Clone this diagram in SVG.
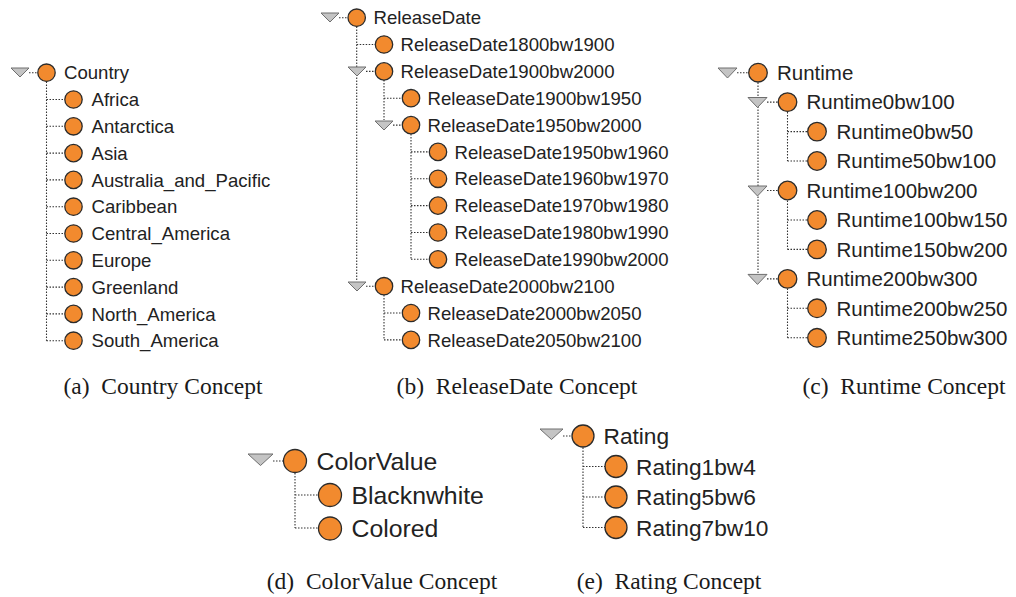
<svg xmlns="http://www.w3.org/2000/svg" width="1016" height="597" viewBox="0 0 1016 597">
  <style>
    .n { fill: #f28a2e; stroke: #2b2b2b; stroke-width: 1.3; }
    .tri { fill: #c4c4c4; stroke: #6e6e6e; stroke-width: 1; stroke-linejoin: round; }
    .dot { fill: none; stroke: #333; stroke-width: 1.1; stroke-dasharray: 1.5 1.5; }
    .t { font-family: "Liberation Sans", Arial, sans-serif; fill: #222; }
    .s18 { font-size: 18.6px; }
    .s20 { font-size: 20.5px; }
    .s22 { font-size: 22.7px; }
    .s24 { font-size: 24.8px; }
    .cap { font-family: "Liberation Serif", "Times New Roman", serif; font-size: 23.5px; fill: #1a1a1a; text-anchor: middle; }
  </style>

  <!-- dotted tree connectors -->
  <g id="connectors">
    <!-- (a) Country -->
    <path class="dot" d="M29,72.7H37 M46.5,81.5V340.7 M46.5,99.5H64 M46.5,126.3H64 M46.5,153.1H64 M46.5,179.9H64 M46.5,206.7H64 M46.5,233.5H64 M46.5,260.3H64 M46.5,287.1H64 M46.5,313.9H64 M46.5,340.7H64"/>
    <!-- (b) ReleaseDate -->
    <path class="dot" d="M339,17.7H347 M356.7,26.5V281 M356.7,44.5H375 M366,71.4H375 M384,80V120 M384,98.2H402 M393,125.1H402 M411,134V259.3 M411,151.9H429 M411,178.8H429 M411,205.6H429 M411,232.5H429 M411,259.3H429 M366,286.2H375 M384,295V339.9 M384,313H402 M384,339.9H402"/>
    <!-- (c) Runtime -->
    <path class="dot" d="M737,72.7H748 M758,82.5V274 M767,102.1H777.5 M787.5,112V161 M787.5,131.6H807 M787.5,161H807 M767,190.5H777.5 M787.5,200.5V249.4 M787.5,220H807 M787.5,249.4H807 M767,278.9H777.5 M787.5,288.5V337.8 M787.5,308.3H807 M787.5,337.8H807"/>
    <!-- (d) ColorValue -->
    <path class="dot" d="M273,461H283 M295,473V528 M295,495H318 M295,528H318"/>
    <!-- (e) Rating -->
    <path class="dot" d="M563,436H572 M583,447.5V527.5 M583,466.5H605 M583,497H605 M583,527.5H605"/>
  </g>

  <!-- (a) Country concept -->
  <g id="country">
    <polygon class="tri" points="11,68 29,68 20,77"/>
    <circle class="n" cx="46.5" cy="72.7" r="8.7"/>
    <text class="t s18" x="64" y="79.3">Country</text>
  </g>
  <g id="country-children" class="t s18">
    <g id="africa"><circle class="n" cx="73.5" cy="99.5" r="8.7"/><text x="91.5" y="106.1">Africa</text></g>
    <g id="antarctica"><circle class="n" cx="73.5" cy="126.3" r="8.7"/><text x="91.5" y="132.9">Antarctica</text></g>
    <g id="asia"><circle class="n" cx="73.5" cy="153.1" r="8.7"/><text x="91.5" y="159.7">Asia</text></g>
    <g id="australia"><circle class="n" cx="73.5" cy="179.9" r="8.7"/><text x="91.5" y="186.5">Australia_and_Pacific</text></g>
    <g id="caribbean"><circle class="n" cx="73.5" cy="206.7" r="8.7"/><text x="91.5" y="213.3">Caribbean</text></g>
    <g id="central-america"><circle class="n" cx="73.5" cy="233.5" r="8.7"/><text x="91.5" y="240.1">Central_America</text></g>
    <g id="europe"><circle class="n" cx="73.5" cy="260.3" r="8.7"/><text x="91.5" y="266.9">Europe</text></g>
    <g id="greenland"><circle class="n" cx="73.5" cy="287.1" r="8.7"/><text x="91.5" y="293.7">Greenland</text></g>
    <g id="north-america"><circle class="n" cx="73.5" cy="313.9" r="8.7"/><text x="91.5" y="320.5">North_America</text></g>
    <g id="south-america"><circle class="n" cx="73.5" cy="340.7" r="8.7"/><text x="91.5" y="347.3">South_America</text></g>
  </g>

  <!-- (b) ReleaseDate concept -->
  <g id="releasedate" class="t s18">
    <polygon class="tri" points="321,13 339,13 330,22"/>
    <circle class="n" cx="356.7" cy="17.7" r="8.7"/>
    <text x="373.5" y="24.3">ReleaseDate</text>
  </g>
  <g id="rd-1800-1900" class="t s18"><circle class="n" cx="384" cy="44.5" r="8.7"/><text x="400.5" y="51.1">ReleaseDate1800bw1900</text></g>
  <g id="rd-1900-2000" class="t s18">
    <polygon class="tri" points="348,67 366,67 357,76"/>
    <circle class="n" cx="384" cy="71.4" r="8.7"/><text x="400.5" y="78">ReleaseDate1900bw2000</text>
  </g>
  <g id="rd-1900-1950" class="t s18"><circle class="n" cx="411" cy="98.2" r="8.7"/><text x="427.5" y="104.8">ReleaseDate1900bw1950</text></g>
  <g id="rd-1950-2000" class="t s18">
    <polygon class="tri" points="375,121 393,121 384,130"/>
    <circle class="n" cx="411" cy="125.1" r="8.7"/><text x="427.5" y="131.7">ReleaseDate1950bw2000</text>
  </g>
  <g id="rd-1950-1960" class="t s18"><circle class="n" cx="438" cy="151.9" r="8.7"/><text x="454.5" y="158.5">ReleaseDate1950bw1960</text></g>
  <g id="rd-1960-1970" class="t s18"><circle class="n" cx="438" cy="178.8" r="8.7"/><text x="454.5" y="185.4">ReleaseDate1960bw1970</text></g>
  <g id="rd-1970-1980" class="t s18"><circle class="n" cx="438" cy="205.6" r="8.7"/><text x="454.5" y="212.2">ReleaseDate1970bw1980</text></g>
  <g id="rd-1980-1990" class="t s18"><circle class="n" cx="438" cy="232.5" r="8.7"/><text x="454.5" y="239.1">ReleaseDate1980bw1990</text></g>
  <g id="rd-1990-2000" class="t s18"><circle class="n" cx="438" cy="259.3" r="8.7"/><text x="454.5" y="265.9">ReleaseDate1990bw2000</text></g>
  <g id="rd-2000-2100" class="t s18">
    <polygon class="tri" points="348,282 366,282 357,291"/>
    <circle class="n" cx="384" cy="286.2" r="8.7"/><text x="400.5" y="292.8">ReleaseDate2000bw2100</text>
  </g>
  <g id="rd-2000-2050" class="t s18"><circle class="n" cx="411" cy="313" r="8.7"/><text x="427.5" y="319.6">ReleaseDate2000bw2050</text></g>
  <g id="rd-2050-2100" class="t s18"><circle class="n" cx="411" cy="339.9" r="8.7"/><text x="427.5" y="346.5">ReleaseDate2050bw2100</text></g>

  <!-- (c) Runtime concept -->
  <g id="runtime" class="t s20">
    <polygon class="tri" points="718,68 737,68 727.5,78"/>
    <circle class="n" cx="758" cy="72.7" r="9.3"/><text x="777" y="80">Runtime</text>
  </g>
  <g id="rt-0-100" class="t s20">
    <polygon class="tri" points="748,97.5 767,97.5 757.5,107.5"/>
    <circle class="n" cx="787.5" cy="102.1" r="9.3"/><text x="806.5" y="109.4">Runtime0bw100</text>
  </g>
  <g id="rt-0-50" class="t s20"><circle class="n" cx="817" cy="131.6" r="9.3"/><text x="836.5" y="138.9">Runtime0bw50</text></g>
  <g id="rt-50-100" class="t s20"><circle class="n" cx="817" cy="161" r="9.3"/><text x="836.5" y="168.3">Runtime50bw100</text></g>
  <g id="rt-100-200" class="t s20">
    <polygon class="tri" points="748,186 767,186 757.5,196"/>
    <circle class="n" cx="787.5" cy="190.5" r="9.3"/><text x="806.5" y="197.8">Runtime100bw200</text>
  </g>
  <g id="rt-100-150" class="t s20"><circle class="n" cx="817" cy="220" r="9.3"/><text x="836.5" y="227.3">Runtime100bw150</text></g>
  <g id="rt-150-200" class="t s20"><circle class="n" cx="817" cy="249.4" r="9.3"/><text x="836.5" y="256.7">Runtime150bw200</text></g>
  <g id="rt-200-300" class="t s20">
    <polygon class="tri" points="748,274.4 767,274.4 757.5,284.4"/>
    <circle class="n" cx="787.5" cy="278.9" r="9.3"/><text x="806.5" y="286.2">Runtime200bw300</text>
  </g>
  <g id="rt-200-250" class="t s20"><circle class="n" cx="817" cy="308.3" r="9.3"/><text x="836.5" y="315.6">Runtime200bw250</text></g>
  <g id="rt-250-300" class="t s20"><circle class="n" cx="817" cy="337.8" r="9.3"/><text x="836.5" y="345.1">Runtime250bw300</text></g>

  <!-- (d) ColorValue concept -->
  <g id="colorvalue" class="t s24">
    <polygon class="tri" points="248,454 273,454 260.5,465.5"/>
    <circle class="n" cx="295" cy="461" r="11.5"/><text x="316.5" y="469.8">ColorValue</text>
  </g>
  <g id="blacknwhite" class="t s24"><circle class="n" cx="330" cy="495" r="11.5"/><text x="351.5" y="503.8">Blacknwhite</text></g>
  <g id="colored" class="t s24"><circle class="n" cx="330" cy="528.5" r="11.5"/><text x="351.5" y="537.3">Colored</text></g>

  <!-- (e) Rating concept -->
  <g id="rating" class="t s22">
    <polygon class="tri" points="540,429 563,429 551.5,439.5"/>
    <circle class="n" cx="583" cy="436" r="11"/><text x="603.5" y="444">Rating</text>
  </g>
  <g id="rating-1-4" class="t s22"><circle class="n" cx="616" cy="466.5" r="11"/><text x="636" y="474.5">Rating1bw4</text></g>
  <g id="rating-5-6" class="t s22"><circle class="n" cx="616" cy="497" r="11"/><text x="636" y="505">Rating5bw6</text></g>
  <g id="rating-7-10" class="t s22"><circle class="n" cx="616" cy="527.5" r="11"/><text x="636" y="535.5">Rating7bw10</text></g>

  <!-- sub-figure captions -->
  <g id="captions" class="cap">
    <text x="163" y="394" xml:space="preserve">(a)  Country Concept</text>
    <text x="517" y="394" xml:space="preserve">(b)  ReleaseDate Concept</text>
    <text x="904" y="394" xml:space="preserve">(c)  Runtime Concept</text>
    <text x="382" y="589" xml:space="preserve">(d)  ColorValue Concept</text>
    <text x="669" y="589" xml:space="preserve">(e)  Rating Concept</text>
  </g>
</svg>
